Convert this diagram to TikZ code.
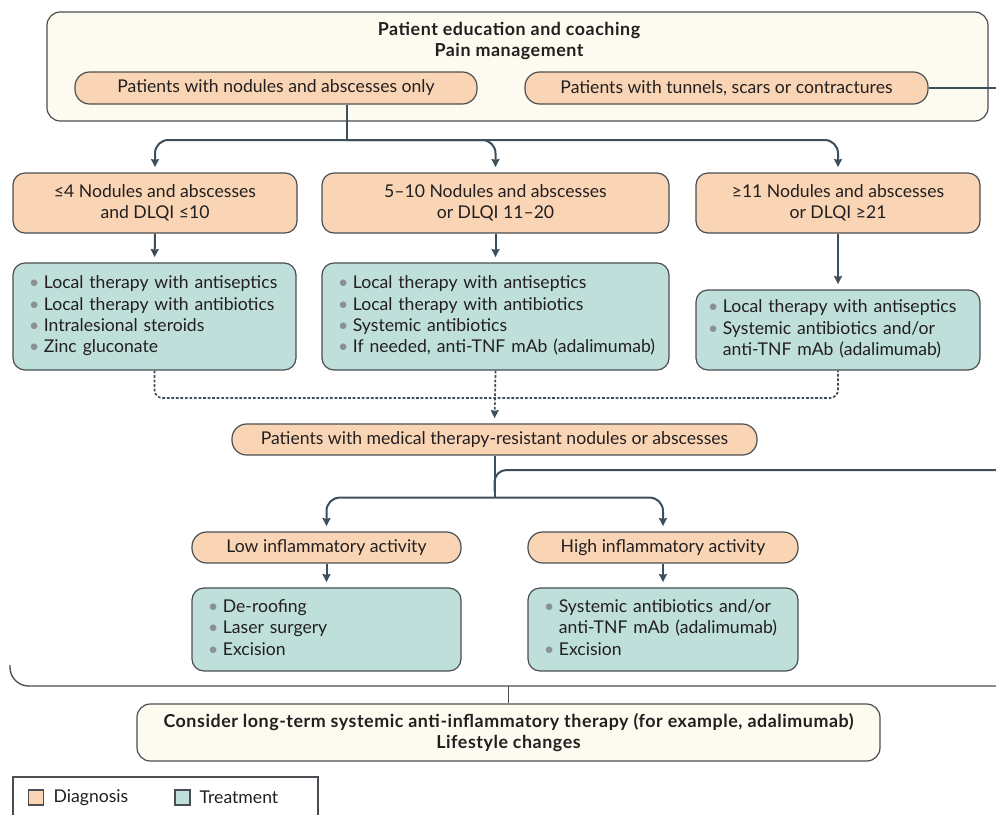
\documentclass[tikz,border=0pt]{standalone}
\usepackage{fontspec}
\setmainfont{Lato}
\usetikzlibrary{arrows.meta,calc}
\definecolor{peach}{HTML}{F9D5B5}
\definecolor{tl}{HTML}{BFDFDA}
\definecolor{cream}{HTML}{FDFBEF}
\definecolor{bd}{HTML}{4A4E52}
\definecolor{ar}{HTML}{3E4F5C}
\definecolor{bul}{HTML}{8A9196}
\definecolor{txt}{HTML}{231F20}
\newcommand\bodyfont{\fontsize{13.2}{16}\selectfont}
\newcommand\boldfont{\fontsize{13.4}{16.2}\selectfont\bfseries\addfontfeatures{LetterSpace=3}}
\newcommand\itm{\textcolor{bul}{\textbullet}}
\begin{document}
\begin{tikzpicture}[x=0.75pt,y=-0.75pt,
  every node/.style={text=txt},
  base/.style={draw=bd, line width=0.9pt, font=\bodyfont, inner sep=0pt},
  diag/.style={base, fill=peach, rounded corners=9pt, align=center},
  treat/.style={base, fill=tl, rounded corners=9pt, align=left, inner xsep=12pt},
  frame/.style={base, fill=cream, rounded corners=10pt},
  conn/.style={draw=ar, line width=1.5pt},
  arr/.style={conn, -{Stealth[length=6pt,width=6pt,inset=0.6pt]}, shorten >=4pt},
  dashd/.style={draw=ar, line width=1.3pt, dash pattern=on 2pt off 1.4pt}]
\clip (0,0) rectangle (996,814);
\fill[white] (0,0) rectangle (996,814);

% top frame
\node[frame, minimum width=941*0.75pt, minimum height=109*0.75pt] (top) at (517.5,66.5) {};
\node[font=\boldfont, align=center] (title) at (509,41) {Patient education and coaching\\Pain management};
\node[diag, minimum width=402*0.75pt, minimum height=32*0.75pt, rounded corners=11pt] (p1) at (276,88) {Patients with nodules and abscesses only};
\node[diag, minimum width=403*0.75pt, minimum height=32*0.75pt, rounded corners=11pt] (p2) at (726.5,88) {Patients with tunnels, scars or contractures};
\coordinate (e1) at (1000,88);
\draw[conn] (p2.east) -- (e1);

% diagnosis row
\node[diag, minimum width=284*0.75pt, minimum height=60*0.75pt] (dA) at (155,203) {≤4 Nodules and abscesses\\and DLQI ≤10};
\node[diag, minimum width=347*0.75pt, minimum height=60*0.75pt] (dB) at (495.5,203) {5–10 Nodules and abscesses\\or DLQI 11–20};
\node[diag, minimum width=284*0.75pt, minimum height=60*0.75pt] (dC) at (838,203) {≥11 Nodules and abscesses\\or DLQI ≥21};

\coordinate (j1) at (347,140);
\draw[conn] (p1.south -| j1) -- (j1);
\draw[arr, rounded corners=10pt] (j1) -| (dA.north);
\draw[arr, rounded corners=10pt] (j1) -| (dB.north);
\draw[arr, rounded corners=10pt] (j1) -| (dC.north);

% treatment row
\node[treat, minimum width=283*0.75pt, minimum height=107*0.75pt, text width=251*0.75pt] (tA) at (154.5,316.5) {%
\begin{tabular}{@{}l@{\hspace{3.5pt}}l@{}}
\itm & Local therapy with antiseptics\\
\itm & Local therapy with antibiotics\\
\itm & Intralesional steroids\\
\itm & Zinc gluconate
\end{tabular}};
\node[treat, minimum width=347*0.75pt, minimum height=107*0.75pt, text width=315*0.75pt] (tB) at (495.5,316.5) {%
\begin{tabular}{@{}l@{\hspace{3.5pt}}l@{}}
\itm & Local therapy with antiseptics\\
\itm & Local therapy with antibiotics\\
\itm & Systemic antibiotics\\
\itm & If needed, anti-TNF mAb (adalimumab)
\end{tabular}};
\node[treat, minimum width=284*0.75pt, minimum height=80*0.75pt, text width=260*0.75pt, inner xsep=9pt] (tC) at (838,330) {%
\begin{tabular}{@{}l@{\hspace{3.5pt}}l@{}}
\itm & Local therapy with antiseptics\\
\itm & Systemic antibiotics and/or\\
 & anti-TNF mAb (adalimumab)
\end{tabular}};

\draw[arr] (dA.south) -- (tA.north);
\draw[arr] (dB.south) -- (tB.north);
\draw[arr] (dC.south) -- (tC.north);

% dashed merge
\node[diag, minimum width=525*0.75pt, minimum height=31*0.75pt, rounded corners=11pt] (mid) at (494.5,439.5) {Patients with medical therapy-resistant nodules or abscesses};
\coordinate (dy) at (0,398);
\draw[dashd, rounded corners=6pt] (tA.south) |- (dy -| tC.south) -- (tC.south);
\draw[dashd, -{Stealth[length=6pt,width=6pt,inset=0.6pt]}, shorten >=4pt] (tB.south) -- (mid.north);

% lower branches
\coordinate (j2) at ($(mid.south)+(0,42)$);
\coordinate (e2) at (1000,470);
\draw[conn] (mid.south) -- (j2);
\draw[conn, rounded corners=9pt] ($(mid.south)+(0,36)$) |- (e2);

\node[diag, minimum width=269*0.75pt, minimum height=31*0.75pt, rounded corners=11pt] (low) at (326.5,547.5) {Low inflammatory activity};
\node[diag, minimum width=270*0.75pt, minimum height=31*0.75pt, rounded corners=11pt] (high) at (663,547.5) {High inflammatory activity};
\draw[arr, rounded corners=10pt] (j2) -| (low.north);
\draw[arr, rounded corners=10pt] (j2) -| (high.north);

\node[treat, minimum width=269*0.75pt, minimum height=83*0.75pt, text width=237*0.75pt] (tL) at (326.5,629.5) {%
\begin{tabular}{@{}l@{\hspace{3.5pt}}l@{}}
\itm & De-roofing\\
\itm & Laser surgery\\
\itm & Excision
\end{tabular}};
\node[treat, minimum width=270*0.75pt, minimum height=83*0.75pt, text width=238*0.75pt] (tH) at (663,629.5) {%
\begin{tabular}{@{}l@{\hspace{3.5pt}}l@{}}
\itm & Systemic antibiotics and/or\\
 & anti-TNF mAb (adalimumab)\\
\itm & Excision
\end{tabular}};
\draw[arr] (low.south) -- (tL.north);
\draw[arr] (high.south) -- (tH.north);

% bottom bracket
\coordinate (b0) at (10,665);
\coordinate (b1) at (1000,686);
\draw[draw=bd, line width=1pt, rounded corners=14pt] (b0) |- (b1);
\node[frame, minimum width=743*0.75pt, minimum height=57*0.75pt, font=\boldfont, align=center] (bot) at (508.5,732.5) {Consider long-term systemic anti-inflammatory therapy (for example, adalimumab)\\Lifestyle changes};
\coordinate (b2) at (bot.north |- b1);
\draw[draw=bd, line width=1pt] (b2) -- (bot.north);

% legend
\node[draw=bd, line width=0.9pt, minimum width=305*0.75pt, minimum height=60*0.75pt, inner sep=0pt] (leg) at (165.5,807) {};
\node[draw=bd, fill=peach, line width=0.8pt, minimum size=15*0.75pt, inner sep=0pt] (sqD) at (36,797.5) {};
\node[anchor=west, font=\bodyfont] (lD) at (49,797.5) {Diagnosis};
\node[draw=bd, fill=tl, line width=0.8pt, minimum size=15*0.75pt, inner sep=0pt] (sqT) at (182.5,797.5) {};
\node[anchor=west, font=\bodyfont] (lT) at (195,797.5) {Treatment};
\end{tikzpicture}
\end{document}
